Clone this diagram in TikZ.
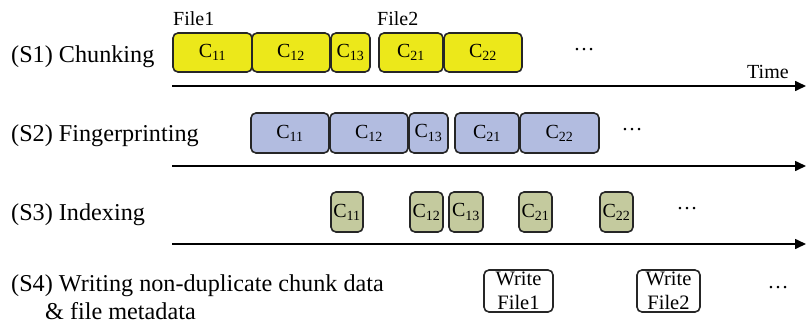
\documentclass[tikz,border=0pt]{standalone}
\usepackage{fontspec}
\setmainfont{Liberation Serif}
\usetikzlibrary{arrows.meta}
\definecolor{chyellow}{RGB}{236,232,26}
\definecolor{chblue}{RGB}{178,188,224}
\definecolor{chgreen}{RGB}{196,202,158}
\newcommand\chk[1]{C\textsubscript{#1}}
\tikzset{
  chunkbox/.style={draw=black!85, line width=1.6pt, rounded corners=5pt, inner sep=0pt,
    font=\fontsize{20}{22}\selectfont},
  ybox/.style={chunkbox, fill=chyellow},
  bbox/.style={chunkbox, fill=chblue},
  gbox/.style={chunkbox, fill=chgreen},
  wbox/.style={chunkbox, fill=white, align=center, font=\fontsize{20.5}{24}\selectfont},
  steplabel/.style={anchor=base west, inner sep=0pt, font=\fontsize{24.2}{26}\selectfont},
  smalllabel/.style={anchor=base west, inner sep=0pt, font=\fontsize{20}{22}\selectfont},
  dotslabel/.style={inner sep=0pt, font=\fontsize{21}{24}\selectfont},
  timeline/.style={line width=1.6pt, -{Triangle[length=11pt,width=10pt]}},
}
\begin{document}
\begin{tikzpicture}[x=1pt,y=-1pt]
\useasboundingbox (0,0) rectangle (806,332);
% labels
\node[steplabel] (l1) at (11,62) {(S1) Chunking};
\node[steplabel] (l2) at (11,141) {(S2) Fingerprinting};
\node[steplabel] (l3) at (11,220) {(S3) Indexing};
\node[steplabel] (l4) at (11,291) {(S4) Writing non-duplicate chunk data};
\node[steplabel] (l4b) at (45,319) {\& file metadata};
\node[smalllabel] (f1) at (173,25) {File1};
\node[smalllabel] (f2) at (377,25) {File2};
\node[smalllabel] (tm) at (747,78) {Time};
% S1
\node[ybox, minimum width=79, minimum height=39] (a11) at (212.5,52.5) {\chk{11}};
\node[ybox, minimum width=78, minimum height=39] (a12) at (291,52.5) {\chk{12}};
\node[ybox, minimum width=39, minimum height=39] (a13) at (350.5,52.5) {\chk{13}};
\node[ybox, minimum width=64, minimum height=39] (a21) at (411,52.5) {\chk{21}};
\node[ybox, minimum width=78, minimum height=39] (a22) at (483,52.5) {\chk{22}};
\node[dotslabel] (d1) at (584,50) {\dots};
% S2
\node[bbox, minimum width=78, minimum height=40] (b11) at (290,133) {\chk{11}};
\node[bbox, minimum width=78, minimum height=40] (b12) at (369,133) {\chk{12}};
\node[bbox, minimum width=39, minimum height=40] (b13) at (428.5,133) {\chk{13}};
\node[bbox, minimum width=64, minimum height=40] (b21) at (487,133) {\chk{21}};
\node[bbox, minimum width=79, minimum height=40] (b22) at (559.5,133) {\chk{22}};
\node[dotslabel] (d2) at (632,130) {\dots};
% S3
\node[gbox, minimum width=32, minimum height=40] (g11) at (347,212) {\chk{11}};
\node[gbox, minimum width=33, minimum height=40] (g12) at (426.5,212) {\chk{12}};
\node[gbox, minimum width=34, minimum height=40] (g13) at (466,212) {\chk{13}};
\node[gbox, minimum width=33, minimum height=40] (g21) at (535.5,212) {\chk{21}};
\node[gbox, minimum width=33, minimum height=40] (g22) at (616.5,212) {\chk{22}};
\node[dotslabel] (d3) at (687,209) {\dots};
% S4
\node[wbox, minimum width=69, minimum height=42] (w1) at (518.5,291) {Write\\File1};
\node[wbox, minimum width=63, minimum height=42] (w2) at (668.5,291) {Write\\File2};
\node[dotslabel] (d4) at (778,288) {\dots};
% time axes
\coordinate (t1s) at (172,86);  \coordinate (t1e) at (806,86);
\coordinate (t2s) at (172,166); \coordinate (t2e) at (806,166);
\coordinate (t3s) at (172,244); \coordinate (t3e) at (806,244);
\draw[timeline] (t1s) -- (t1e);
\draw[timeline] (t2s) -- (t2e);
\draw[timeline] (t3s) -- (t3e);
\end{tikzpicture}
\end{document}
